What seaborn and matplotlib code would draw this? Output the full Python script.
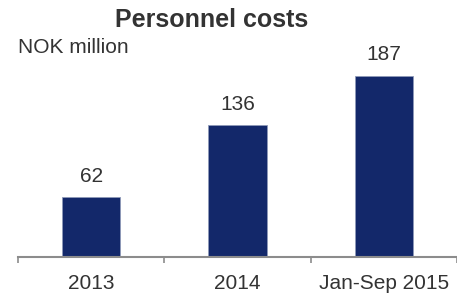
import matplotlib
matplotlib.use("Agg")
import matplotlib.pyplot as plt
import seaborn as sns
import pandas as pd

BAR = "#13286A"
TEXT = "#333333"
AXIS = "#8C8C8C"

periods = ["2013", "2014", "Jan-Sep 2015"]
costs = [62, 136, 187]

df = pd.DataFrame({"period": periods, "cost": costs})

sns.set_theme(style="white")
plt.rcParams["font.family"] = ["Liberation Sans", "DejaVu Sans"]

fig = plt.figure(figsize=(4.57, 2.96), dpi=100)
# axes: bottom at y=257px, left at x=18px
ax = fig.add_axes([18 / 457, 39 / 296, 439 / 457, 194 / 296])

sns.barplot(data=df, x="period", y="cost", color=BAR, width=0.4,
            edgecolor="#8E9AB8", linewidth=0.6, saturation=1, ax=ax)

for i, v in enumerate(costs):
    ax.annotate(f"{v}", (i, v), xytext=(0, 11), textcoords="offset points",
                ha="center", va="baseline", fontsize=15, color=TEXT)

ax.set_xlim(-0.5, 2.466)
ax.set_ylim(0, 200)
ax.set_xlabel("")
ax.set_ylabel("")
ax.set_yticks([])
for s in ["top", "right", "left"]:
    ax.spines[s].set_visible(False)
ax.spines["bottom"].set_color(AXIS)
ax.spines["bottom"].set_linewidth(1.5)

ax.set_xticks([-0.5, 0.5, 1.5, 2.5], minor=True)
ax.tick_params(axis="x", which="minor", length=4, width=1.2, color=AXIS,
               direction="out", bottom=True)
ax.tick_params(axis="x", which="major", length=0, pad=12, labelsize=15,
               labelcolor=TEXT)

fig.text(212 / 457, 1 - 27 / 296, "Personnel costs", ha="center",
         va="baseline", fontsize=18, fontweight="bold", color=TEXT)
fig.text(18 / 457, 1 - 53 / 296, "NOK million", ha="left", va="baseline",
         fontsize=15, color=TEXT)

fig.savefig("out.png", dpi=100, facecolor="white")
